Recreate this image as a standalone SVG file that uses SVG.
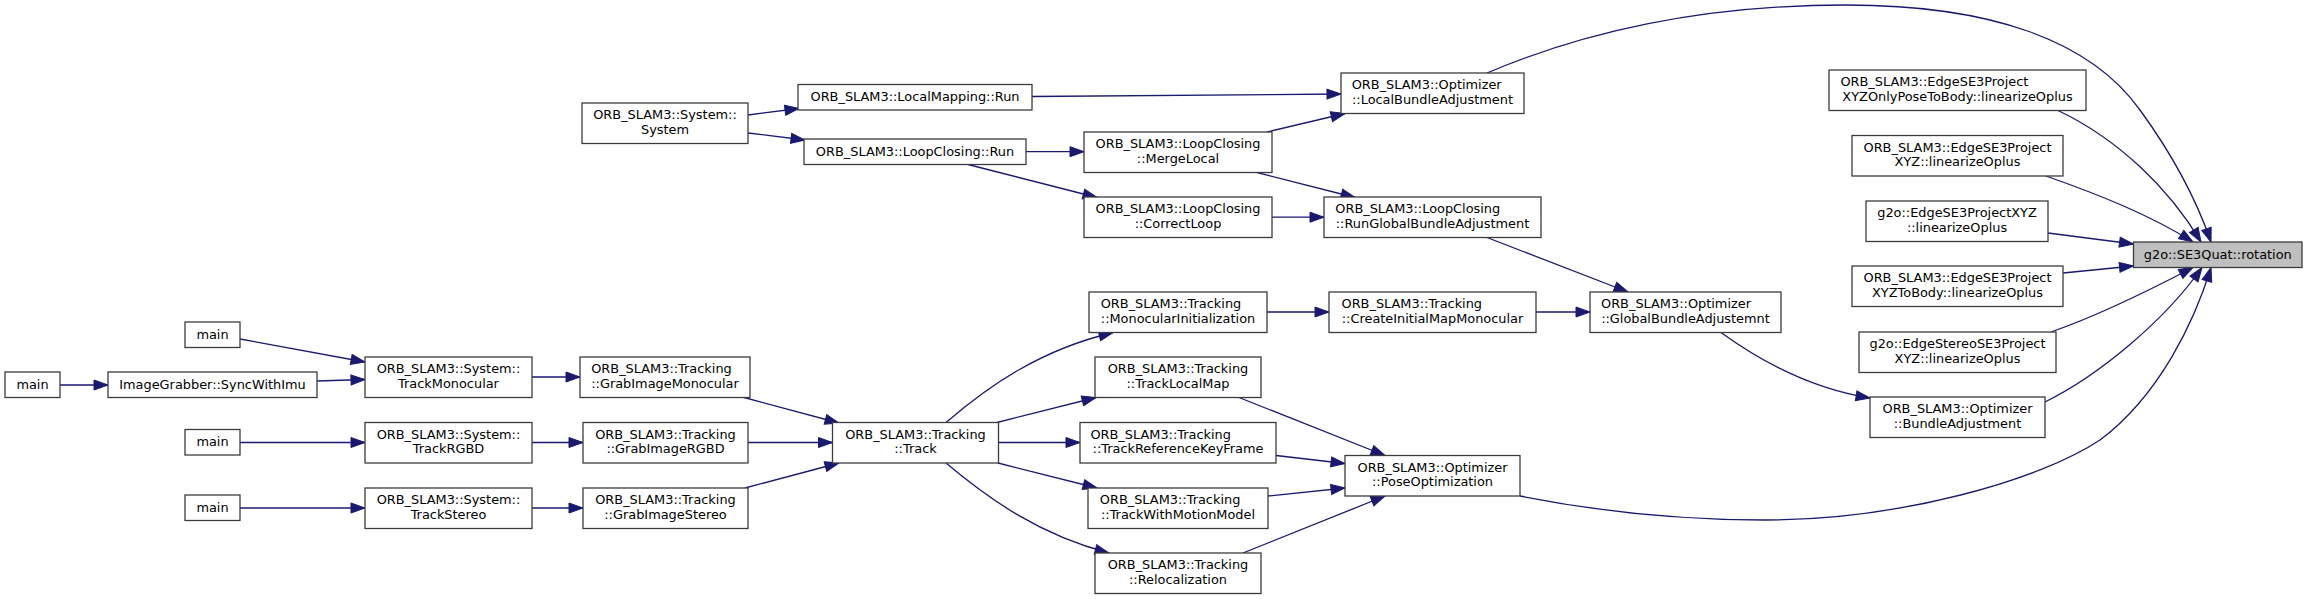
<svg xmlns="http://www.w3.org/2000/svg" width="2307" height="599" viewBox="0 0 2307 599">
<style>
.n rect{fill:#fff;stroke:#3c3c3c;stroke-width:1.3}
.root rect{fill:#bfbfbf}
text{font-family:"DejaVu Sans","Liberation Sans",sans-serif;font-size:12.9px;fill:#000;text-anchor:middle}
text.l{text-anchor:start}
.e path{fill:none;stroke:#191970;stroke-width:1.3;marker-end:url(#a)}
</style>
<defs>
<marker id="a" markerUnits="userSpaceOnUse" markerWidth="14" markerHeight="10" refX="14" refY="5" orient="auto" overflow="visible">
<path d="M0,0 L14,5 L0,10 z" fill="#191970" stroke="#191970" stroke-width="1"/>
</marker>
</defs>
<rect width="2307" height="599" fill="#fff"/>
<g class="e" id="edges">
<path d="M60,385 L108,385"/>
<path d="M317,381 L365,379.5"/>
<path d="M240,339 L365,362"/>
<path d="M240,442.5 L365,442.5"/>
<path d="M240,508 L365,508"/>
<path d="M532,377 L580,377"/>
<path d="M532,442.5 L583,442.5"/>
<path d="M532,508 L583,508"/>
<path d="M742,397 L839,423"/>
<path d="M748,442.5 L832.5,442.5"/>
<path d="M745,488 L839,463"/>
<path d="M748,115 L799,108.5"/>
<path d="M748,133 L805,140"/>
<path d="M1032,96.5 L1341,94"/>
<path d="M1026,151.7 L1084,151.7"/>
<path d="M968,164.5 L1097,197.5"/>
<path d="M1267,132 L1345,113.5"/>
<path d="M1257,172.5 L1355,197.5"/>
<path d="M1272,217.2 L1324,217.2"/>
<path d="M1487,237.5 L1628,292"/>
<path d="M946,422.5 C990,385 1040,350 1113,332.5"/>
<path d="M997,422.5 L1096,397.5"/>
<path d="M998.5,442.5 L1080,442.5"/>
<path d="M998,463 L1097,488"/>
<path d="M946,463 C990,500 1040,535 1109,553"/>
<path d="M1267,312 L1329,312"/>
<path d="M1536,312 L1590,312"/>
<path d="M1239,397.5 L1385,455.5"/>
<path d="M1276,455.5 L1345,463.5"/>
<path d="M1268,496 L1345,488"/>
<path d="M1243,553 L1385,496"/>
<path d="M1721,332.5 C1770,368 1820,390 1870,398"/>
<path d="M1487,73 C1600,25 1720,5 1846,5 C1990,5 2090,40 2140,110 C2180,165 2200,210 2211,242"/>
<path d="M1520,496 C1600,512 1680,520 1765,520 C1900,520 2040,480 2100,440 C2160,395 2195,320 2211,267.5"/>
<path d="M2058,110.5 C2120,140 2170,190 2201,242"/>
<path d="M2046,176 C2100,195 2150,215 2193,242"/>
<path d="M2048,233 L2133.5,244"/>
<path d="M2063,273 L2133.5,266"/>
<path d="M2051,332 C2100,315 2150,290 2193,267.5"/>
<path d="M2045,402 C2100,375 2165,320 2202,267.5"/>
</g>
<g id="n_rotation" class="n root"><rect x="2133.5" y="242" width="168.5" height="25.5"/><text x="2217.75" y="258.8">g2o::SE3Quat::rotation</text></g>
<g id="n_pose2body" class="n"><rect x="1829" y="70" width="257" height="40.5"/><text class="l" x="1840.4" y="86.3">ORB_SLAM3::EdgeSE3Project</text><text x="1957.5" y="100.6">XYZOnlyPoseToBody::linearizeOplus</text></g>
<g id="n_xyz_orb" class="n"><rect x="1852" y="135.5" width="211" height="40.5"/><text x="1957.5" y="151.8">ORB_SLAM3::EdgeSE3Project</text><text x="1957.5" y="166.1">XYZ::linearizeOplus</text></g>
<g id="n_xyz_g2o" class="n"><rect x="1866" y="201" width="182" height="40.5"/><text x="1957" y="217.3">g2o::EdgeSE3ProjectXYZ</text><text x="1957" y="231.6">::linearizeOplus</text></g>
<g id="n_tobody" class="n"><rect x="1852" y="266" width="211" height="40.5"/><text x="1957.5" y="282.3">ORB_SLAM3::EdgeSE3Project</text><text x="1957.5" y="296.6">XYZToBody::linearizeOplus</text></g>
<g id="n_stereo" class="n"><rect x="1859" y="332" width="197" height="40.5"/><text x="1957.5" y="348.3">g2o::EdgeStereoSE3Project</text><text x="1957.5" y="362.6">XYZ::linearizeOplus</text></g>
<g id="n_ba" class="n"><rect x="1870" y="397" width="175" height="40.5"/><text x="1957.5" y="413.3">ORB_SLAM3::Optimizer</text><text x="1957.5" y="427.6">::BundleAdjustment</text></g>
<g id="n_gba" class="n"><rect x="1590" y="292" width="191" height="40.5"/><text class="l" x="1601" y="308.3">ORB_SLAM3::Optimizer</text><text x="1685.5" y="322.6">::GlobalBundleAdjustemnt</text></g>
<g id="n_lba" class="n"><rect x="1341" y="73" width="183" height="40.5"/><text class="l" x="1351.7" y="89.3">ORB_SLAM3::Optimizer</text><text x="1432.5" y="103.6">::LocalBundleAdjustment</text></g>
<g id="n_rgba" class="n"><rect x="1324" y="197" width="217" height="40.5"/><text class="l" x="1335.3" y="213.3">ORB_SLAM3::LoopClosing</text><text x="1432.5" y="227.6">::RunGlobalBundleAdjustment</text></g>
<g id="n_cimm" class="n"><rect x="1329" y="292" width="207" height="40.5"/><text class="l" x="1341.5" y="308.3">ORB_SLAM3::Tracking</text><text x="1432.5" y="322.6">::CreateInitialMapMonocular</text></g>
<g id="n_pose" class="n"><rect x="1345" y="455.5" width="175" height="40.5"/><text x="1432.5" y="471.8">ORB_SLAM3::Optimizer</text><text x="1432.5" y="486.1">::PoseOptimization</text></g>
<g id="n_merge" class="n"><rect x="1084" y="132" width="188" height="40.5"/><text x="1178" y="148.3">ORB_SLAM3::LoopClosing</text><text x="1178" y="162.6">::MergeLocal</text></g>
<g id="n_correct" class="n"><rect x="1084" y="197" width="188" height="40.5"/><text x="1178" y="213.3">ORB_SLAM3::LoopClosing</text><text x="1178" y="227.6">::CorrectLoop</text></g>
<g id="n_moninit" class="n"><rect x="1089" y="292" width="178" height="40.5"/><text class="l" x="1100.7" y="308.3">ORB_SLAM3::Tracking</text><text x="1178" y="322.6">::MonocularInitialization</text></g>
<g id="n_tlm" class="n"><rect x="1095" y="357" width="166" height="40.5"/><text x="1178" y="373.3">ORB_SLAM3::Tracking</text><text x="1178" y="387.6">::TrackLocalMap</text></g>
<g id="n_trkf" class="n"><rect x="1080" y="422.5" width="196" height="40.5"/><text class="l" x="1090.4" y="438.8">ORB_SLAM3::Tracking</text><text x="1178" y="453.1">::TrackReferenceKeyFrame</text></g>
<g id="n_twmm" class="n"><rect x="1088" y="488" width="180" height="40.5"/><text class="l" x="1099.8" y="504.3">ORB_SLAM3::Tracking</text><text x="1178" y="518.6">::TrackWithMotionModel</text></g>
<g id="n_reloc" class="n"><rect x="1095" y="553" width="166" height="40.5"/><text x="1178" y="569.3">ORB_SLAM3::Tracking</text><text x="1178" y="583.6">::Relocalization</text></g>
<g id="n_lmrun" class="n"><rect x="798" y="84.5" width="234" height="25.5"/><text x="915" y="101.3">ORB_SLAM3::LocalMapping::Run</text></g>
<g id="n_lcrun" class="n"><rect x="804" y="139" width="222" height="25.5"/><text x="915" y="155.8">ORB_SLAM3::LoopClosing::Run</text></g>
<g id="n_track" class="n"><rect x="832.5" y="422.5" width="166" height="40.5"/><text x="915.5" y="438.8">ORB_SLAM3::Tracking</text><text x="915.5" y="453.1">::Track</text></g>
<g id="n_sys" class="n"><rect x="582" y="103" width="166" height="40.5"/><text x="665" y="119.3">ORB_SLAM3::System::</text><text x="665" y="133.6">System</text></g>
<g id="n_gim" class="n"><rect x="580" y="357" width="170" height="40.5"/><text class="l" x="591.2" y="373.3">ORB_SLAM3::Tracking</text><text x="665" y="387.6">::GrabImageMonocular</text></g>
<g id="n_girgbd" class="n"><rect x="583" y="422.5" width="165" height="40.5"/><text x="665.5" y="438.8">ORB_SLAM3::Tracking</text><text x="665.5" y="453.1">::GrabImageRGBD</text></g>
<g id="n_gistereo" class="n"><rect x="583" y="488" width="165" height="40.5"/><text x="665.5" y="504.3">ORB_SLAM3::Tracking</text><text x="665.5" y="518.6">::GrabImageStereo</text></g>
<g id="n_tmono" class="n"><rect x="365" y="357" width="167" height="40.5"/><text x="448.5" y="373.3">ORB_SLAM3::System::</text><text x="448.5" y="387.6">TrackMonocular</text></g>
<g id="n_trgbd" class="n"><rect x="365" y="422.5" width="167" height="40.5"/><text x="448.5" y="438.8">ORB_SLAM3::System::</text><text x="448.5" y="453.1">TrackRGBD</text></g>
<g id="n_tstereo" class="n"><rect x="365" y="488" width="167" height="40.5"/><text x="448.5" y="504.3">ORB_SLAM3::System::</text><text x="448.5" y="518.6">TrackStereo</text></g>
<g id="n_main1" class="n"><rect x="185" y="322" width="55" height="25.5"/><text x="212.5" y="338.8">main</text></g>
<g id="n_sync" class="n"><rect x="108" y="372" width="209" height="25.5"/><text x="212.5" y="388.8">ImageGrabber::SyncWithImu</text></g>
<g id="n_main2" class="n"><rect x="185" y="429.5" width="55" height="25.5"/><text x="212.5" y="446.3">main</text></g>
<g id="n_main3" class="n"><rect x="185" y="495" width="55" height="25.5"/><text x="212.5" y="511.8">main</text></g>
<g id="n_main0" class="n"><rect x="5" y="372" width="55" height="25.5"/><text x="32.5" y="388.8">main</text></g>
</svg>
